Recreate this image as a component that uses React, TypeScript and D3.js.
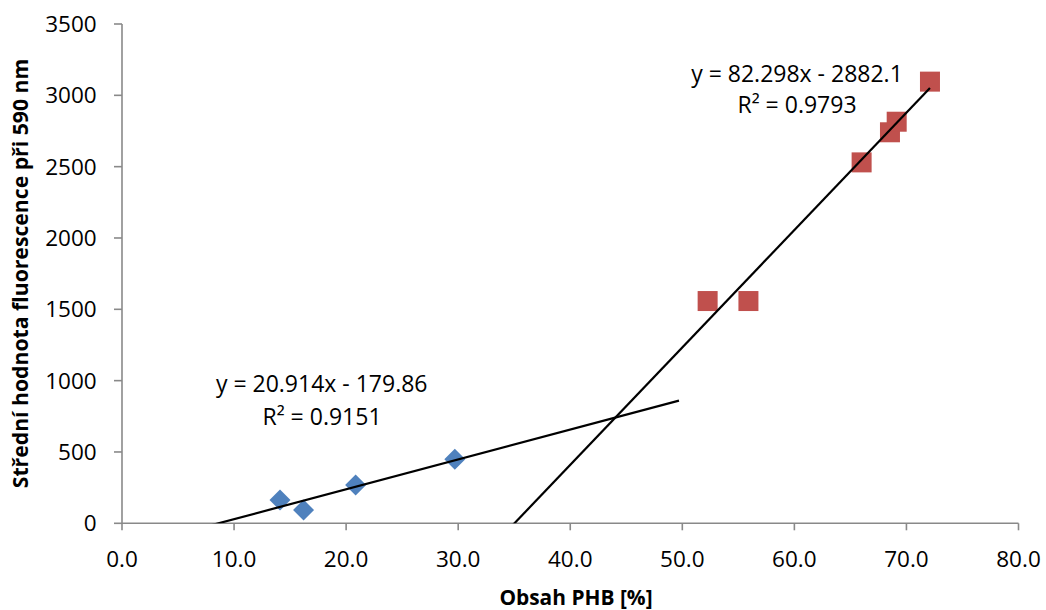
import React from "react";
import * as d3 from "d3";

// ---- data ----
const blueX = [14.1, 16.2, 20.85, 29.7];
const blueY = [163, 93, 268, 449];
const redX = [52.26, 55.9, 66.0, 68.53, 69.13, 72.1];
const redY = [1558, 1558, 2530, 2741, 2815, 3096];

const blueTrend = [20.914, -179.86]; // slope, intercept
const redTrend = [82.298, -2882.1];
const blueTrendRange = [0, 49.7];
const redTrendRange = [30, 72.1];

const blueLabel = ["y = 20.914x - 179.86", "R² = 0.9151"];
const redLabel = ["y = 82.298x - 2882.1", "R² = 0.9793"];

const xTicks = [0, 10, 20, 30, 40, 50, 60, 70, 80];
const yTicks = [0, 500, 1000, 1500, 2000, 2500, 3000, 3500];

const xTitle = "Obsah PHB [%]";
const yTitle = "Střední hodnota fluorescence při 590 nm";

const W = 1046;
const H = 610;
const FONT = "'Open Sans', 'DejaVu Sans', sans-serif";
const AXIS = "#898989";
const BLUE = "#4F81BD";
const RED = "#C0504D";

export default function App() {
  const x = d3.scaleLinear().domain([0, 80]).range([122, 1018.5]);
  const y = d3.scaleLinear().domain([0, 3500]).range([523.3, 24]);

  const trendPath = (coef: number[], range: number[]) => {
    const pts: [number, number][] = range.map((v) => [x(v), y(coef[0] * v + coef[1])]);
    return d3.line()(pts) as string;
  };

  const [x0, x1] = x.range();
  const [y0, y1] = y.range();

  return (
    <svg
      width={W}
      height={H}
      style={{ position: "absolute", left: 0, top: 0, background: "#fff" }}
      fontFamily={FONT}
    >
      <defs>
        <clipPath id="plot">
          <rect x={x0} y={y1} width={x1 - x0} height={y0 - y1} />
        </clipPath>
      </defs>

      {/* axes */}
      <line x1={x0} x2={x0} y1={y1} y2={y0} stroke={AXIS} strokeWidth={1.6} />
      <line x1={x0} x2={x1} y1={y0} y2={y0} stroke={AXIS} strokeWidth={1.6} />
      {yTicks.map((t) => (
        <g key={"y" + t}>
          <line x1={x0 - 8} x2={x0} y1={y(t)} y2={y(t)} stroke={AXIS} strokeWidth={1.6} />
          <text
            x={96.7}
            y={y(t)}
            dy="0.36em"
            textAnchor="end"
            fontSize={22.5}
            fill="#000"
          >
            {t}
          </text>
        </g>
      ))}
      {xTicks.map((t) => (
        <g key={"x" + t}>
          <line x1={x(t)} x2={x(t)} y1={y0} y2={y0 + 7} stroke={AXIS} strokeWidth={1.6} />
          <text x={x(t)} y={566.5} textAnchor="middle" fontSize={22.5} fill="#000">
            {t.toFixed(1)}
          </text>
        </g>
      ))}

      {/* axis titles */}
      <text
        x={576}
        y={605}
        textAnchor="middle"
        fontSize={20.9}
        fontWeight="bold"
        fill="#000"
      >
        {xTitle}
      </text>
      <text
        transform="translate(27.5,273.5) rotate(-90)"
        textAnchor="middle"
        fontSize={21.2}
        fontWeight="bold"
        fill="#000"
      >
        {yTitle}
      </text>

      {/* markers */}
      {blueX.map((v, i) => {
        const cx = x(v);
        const cy = y(blueY[i]);
        const r = 10.5;
        return (
          <polygon
            key={"b" + i}
            points={`${cx},${cy - r} ${cx + r},${cy} ${cx},${cy + r} ${cx - r},${cy}`}
            fill={BLUE}
          />
        );
      })}
      {redX.map((v, i) => (
        <rect
          key={"r" + i}
          x={x(v) - 10}
          y={y(redY[i]) - 10}
          width={20}
          height={20}
          fill={RED}
        />
      ))}

      {/* trend lines */}
      <g clipPath="url(#plot)">
        <path d={trendPath(blueTrend, blueTrendRange)} stroke="#000" strokeWidth={2.2} fill="none" />
        <path d={trendPath(redTrend, redTrendRange)} stroke="#000" strokeWidth={2.2} fill="none" />
      </g>

      {/* equation labels */}
      <text textAnchor="middle" fontSize={23} fill="#000">
        <tspan x={321.7} y={392.3}>{blueLabel[0]}</tspan>
        <tspan x={322} y={425}>{blueLabel[1]}</tspan>
      </text>
      <text textAnchor="middle" fontSize={23} fill="#000">
        <tspan x={797} y={81.7}>{redLabel[0]}</tspan>
        <tspan x={797} y={113.3}>{redLabel[1]}</tspan>
      </text>
    </svg>
  );
}
